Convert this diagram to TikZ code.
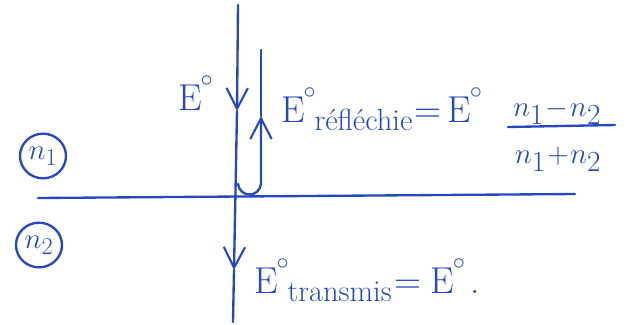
\documentclass[tikz,border=0pt]{standalone}
\usetikzlibrary{arrows.meta,shapes.geometric}
\definecolor{ink}{RGB}{38,72,190}
\newcommand\degs{\raisebox{0.62em}{\fontsize{20}{20}\selectfont$\circ$}}
\newcommand\subtxt[1]{\raisebox{-0.22em}{\fontsize{26}{26}\selectfont #1}}
\begin{document}
\begin{tikzpicture}[x=0.3mm,y=-0.3mm,
  ink line/.style={draw=ink,line width=2pt,line cap=round},
  tipd/.style={-{Straight Barb[length=6.2mm,width=6.4mm,line width=1.8pt]}},
  lbl/.style={text=ink,font=\fontsize{32}{36}\selectfont,inner sep=0pt},
  frac/.style={text=ink,font=\fontsize{36}{40}\selectfont,inner sep=0pt},
  medium/.style={draw=ink,line width=2pt,ellipse,inner sep=0pt,minimum width=13.8mm,minimum height=13.4mm,text=ink,font=\fontsize{32}{34}\selectfont}]
\useasboundingbox (0,0) rectangle (630,324);
% interface
\coordinate (iL) at (38,198);
\coordinate (iR) at (575,194);
\draw[ink line] (iL) -- (iR);
% incident / transmitted vertical line
\coordinate (vTop) at (238,5);
\coordinate (vInc) at (237,111);
\coordinate (vTr) at (234,270);
\coordinate (vBot) at (233,322);
\draw[ink line,tipd] (vTop) -- (vInc);
\draw[ink line,tipd] (vInc) -- (vTr);
\draw[ink line] (vTr) -- (vBot);
% reflected line with U-turn
\coordinate (uA) at (238,184);
\coordinate (uB) at (261,184);
\coordinate (rTip) at (261,116);
\coordinate (rTop) at (261,50);
\draw[ink line,tipd] (uA) .. controls (240,198) and (259,198) .. (uB) -- (rTip);
\draw[ink line] (rTip) -- (rTop);
% media labels
\node[medium] (n1) at (43,156) {$n_1$};
\node[medium] (n2) at (39,245) {$n_2$};
% labels
\node[lbl,anchor=base west] (Ei) at (178,110) {E\kern-1pt\degs};
\node[lbl,anchor=base west] (Er) at (281,122) {E\kern-1pt\degs\kern-1pt\subtxt{réfléchie}\kern2pt=\kern5pt E\kern-1pt\degs};
\node[frac,anchor=base] (num) at (557,116) {$n_1\!-\!n_2$};
\node[frac,anchor=base] (den) at (558,163) {$n_1\!+\!n_2$};
\coordinate (fL) at (508,127);
\coordinate (fR) at (615,125);
\draw[ink line] (fL) -- (fR);
\node[lbl,anchor=base west] (Et) at (254,293) {E\kern-1pt\degs\kern-1pt\subtxt{transmis}\kern2pt=\kern8pt E\kern-1pt\degs\kern5pt.};
\end{tikzpicture}
\end{document}
